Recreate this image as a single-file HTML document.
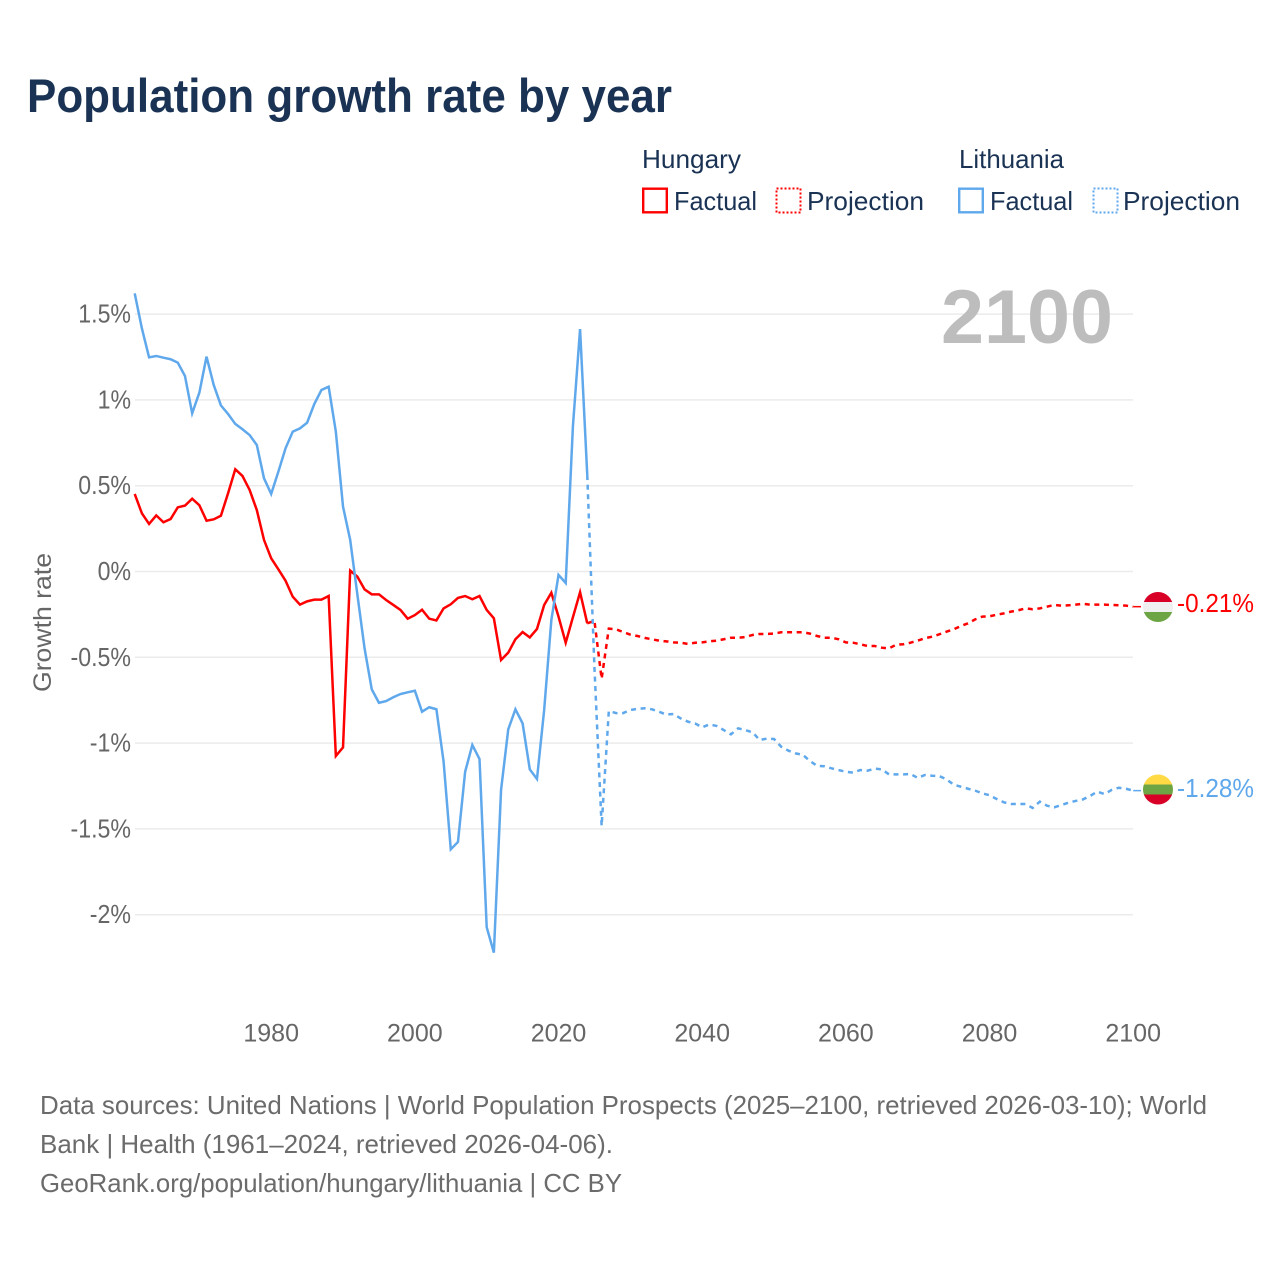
<!DOCTYPE html>
<html lang="en">
<head>
<meta charset="utf-8">
<title>Population growth rate by year</title>
<style>
html,body{margin:0;padding:0;background:#fff;}
svg{display:block;}
text{font-family:"Liberation Sans",sans-serif;}
</style>
</head>
<body>
<svg id="chart" xmlns="http://www.w3.org/2000/svg" width="1280" height="1280" viewBox="0 0 1280 1280">
  <rect x="0" y="0" width="1280" height="1280" fill="#ffffff"/>
  <text x="27" y="112" font-size="47" font-weight="700" fill="#1a3354" textLength="645" lengthAdjust="spacingAndGlyphs">Population growth rate by year</text>

  <g font-size="26" fill="#1a3354">
    <text x="642" y="168" textLength="99" lengthAdjust="spacingAndGlyphs">Hungary</text>
    <text x="959" y="168" textLength="105" lengthAdjust="spacingAndGlyphs">Lithuania</text>
    <rect x="643.2" y="188.7" width="23.6" height="23.6" fill="none" stroke="#ff0000" stroke-width="2.4"/>
    <text x="674" y="210" textLength="83" lengthAdjust="spacingAndGlyphs">Factual</text>
    <rect x="776.5" y="188.5" width="24" height="24" fill="none" stroke="#ff0000" stroke-width="2" stroke-dasharray="2 2"/>
    <text x="807" y="210" textLength="117" lengthAdjust="spacingAndGlyphs">Projection</text>
    <rect x="959.2" y="188.7" width="23.6" height="23.6" fill="none" stroke="#5fa8ec" stroke-width="2.4"/>
    <text x="990" y="210" textLength="83" lengthAdjust="spacingAndGlyphs">Factual</text>
    <rect x="1093.5" y="188.5" width="24" height="24" fill="none" stroke="#5fa8ec" stroke-width="2" stroke-dasharray="2 2"/>
    <text x="1123" y="210" textLength="117" lengthAdjust="spacingAndGlyphs">Projection</text>
  </g>

  <g id="grid"></g>
  <g id="yLabels"></g>
  <g id="xLabels"></g>

  <text transform="translate(51,622.5) rotate(-90)" text-anchor="middle" font-size="25" fill="#666666" textLength="139" lengthAdjust="spacingAndGlyphs">Growth rate</text>
  <text x="941" y="343" font-size="76" font-weight="700" fill="#bdbdbd" textLength="172" lengthAdjust="spacingAndGlyphs">2100</text>

  <g id="series"></g>

  <defs>
    <clipPath id="flagClipHu"><circle cx="1158" cy="607" r="15"/></clipPath>
    <clipPath id="flagClipLt"><circle cx="1158" cy="789.5" r="15"/></clipPath>
  </defs>
  <g clip-path="url(#flagClipHu)">
    <rect x="1143" y="592" width="30" height="10" fill="#d80027"/>
    <rect x="1143" y="602" width="30" height="10" fill="#f0f0f0"/>
    <rect x="1143" y="612" width="30" height="10" fill="#6da544"/>
  </g>
  <g clip-path="url(#flagClipLt)">
    <rect x="1143" y="774.5" width="30" height="10" fill="#ffda44"/>
    <rect x="1143" y="784.5" width="30" height="10" fill="#6da544"/>
    <rect x="1143" y="794.5" width="30" height="10" fill="#d80027"/>
  </g>
  <text x="1177" y="612" font-size="26" fill="#ff0000" textLength="77" lengthAdjust="spacingAndGlyphs">-0.21%</text>
  <text x="1177" y="797" font-size="26" fill="#5fa8ec" textLength="77" lengthAdjust="spacingAndGlyphs">-1.28%</text>

  <g font-size="26" fill="#6b6b6b">
    <text x="40" y="1114" textLength="1167" lengthAdjust="spacingAndGlyphs">Data sources: United Nations | World Population Prospects (2025–2100, retrieved 2026-03-10); World</text>
    <text x="40" y="1153" textLength="573" lengthAdjust="spacingAndGlyphs">Bank | Health (1961–2024, retrieved 2026-04-06).</text>
    <text x="40" y="1192" textLength="582" lengthAdjust="spacingAndGlyphs">GeoRank.org/population/hungary/lithuania | CC BY</text>
  </g>
</svg>
<script>
const yTickValues = [1.5, 1, 0.5, 0, -0.5, -1, -1.5, -2];
const yTickLabels = ["1.5%", "1%", "0.5%", "0%", "-0.5%", "-1%", "-1.5%", "-2%"];
const xTickYears = [1980, 2000, 2020, 2040, 2060, 2080, 2100];
const factualStartYear = 1961;
const projectionStartYear = 2024;

const hungaryFactual = [0.452,0.339,0.277,0.327,0.287,0.306,0.374,0.384,0.424,0.386,0.296,0.304,0.325,0.456,0.596,0.557,0.475,0.358,0.184,0.077,0.013,-0.054,-0.147,-0.193,-0.174,-0.164,-0.164,-0.143,-1.075,-1.025,0.005,-0.03,-0.104,-0.133,-0.133,-0.166,-0.195,-0.224,-0.275,-0.254,-0.223,-0.275,-0.285,-0.215,-0.191,-0.154,-0.143,-0.162,-0.143,-0.224,-0.273,-0.516,-0.473,-0.395,-0.353,-0.384,-0.335,-0.195,-0.124,-0.263,-0.415,-0.267,-0.121,-0.302];
const hungaryProjection = [-0.302,-0.288,-0.625,-0.333,-0.337,-0.353,-0.368,-0.376,-0.387,-0.395,-0.403,-0.407,-0.413,-0.415,-0.422,-0.415,-0.413,-0.407,-0.403,-0.395,-0.386,-0.386,-0.382,-0.37,-0.364,-0.364,-0.362,-0.354,-0.354,-0.354,-0.354,-0.362,-0.376,-0.386,-0.386,-0.395,-0.413,-0.415,-0.424,-0.434,-0.434,-0.444,-0.448,-0.427,-0.424,-0.415,-0.403,-0.389,-0.38,-0.366,-0.351,-0.337,-0.318,-0.302,-0.279,-0.263,-0.261,-0.252,-0.244,-0.234,-0.226,-0.215,-0.22,-0.215,-0.205,-0.195,-0.199,-0.197,-0.193,-0.188,-0.193,-0.193,-0.193,-0.195,-0.197,-0.199,-0.205];
const lithuaniaFactual = [1.621,1.417,1.248,1.256,1.246,1.237,1.217,1.139,0.922,1.042,1.252,1.087,0.968,0.918,0.86,0.829,0.795,0.737,0.543,0.452,0.582,0.718,0.815,0.834,0.867,0.976,1.058,1.077,0.815,0.378,0.184,-0.135,-0.448,-0.687,-0.765,-0.755,-0.733,-0.714,-0.704,-0.695,-0.817,-0.791,-0.803,-1.108,-1.619,-1.576,-1.167,-1.011,-1.093,-2.073,-2.221,-1.273,-0.92,-0.803,-0.885,-1.153,-1.209,-0.807,-0.283,-0.02,-0.067,0.844,1.413,0.562];
const lithuaniaProjection = [0.562,-0.56,-1.483,-0.813,-0.825,-0.825,-0.807,-0.801,-0.797,-0.803,-0.817,-0.834,-0.83,-0.856,-0.875,-0.885,-0.908,-0.891,-0.9,-0.924,-0.949,-0.914,-0.924,-0.937,-0.982,-0.974,-0.976,-1.021,-1.044,-1.06,-1.068,-1.104,-1.133,-1.135,-1.147,-1.157,-1.167,-1.172,-1.157,-1.161,-1.149,-1.153,-1.182,-1.182,-1.182,-1.18,-1.203,-1.186,-1.19,-1.192,-1.211,-1.242,-1.254,-1.266,-1.277,-1.293,-1.304,-1.326,-1.345,-1.355,-1.355,-1.355,-1.378,-1.341,-1.365,-1.374,-1.361,-1.347,-1.337,-1.328,-1.308,-1.283,-1.297,-1.273,-1.26,-1.266,-1.277];

const SVG_NS = "http://www.w3.org/2000/svg";
const xScale = function (year) { return 134.7 + (year - 1961) * (1133.2 - 134.7) / (2100 - 1961); };
const yScale = function (value) { return 571.5 - value * 171.6; };

const gridGroup = document.getElementById("grid");
const yLabelGroup = document.getElementById("yLabels");
const xLabelGroup = document.getElementById("xLabels");
const seriesGroup = document.getElementById("series");

yTickValues.forEach(function (value, i) {
  const line = document.createElementNS(SVG_NS, "line");
  
  
  line.setAttribute("x1", 135);
  line.setAttribute("x2", 1133);
  line.setAttribute("y1", yScale(value));
  line.setAttribute("y2", yScale(value));
  line.setAttribute("stroke", "#ebebeb");
  line.setAttribute("stroke-width", "1.5");
  gridGroup.appendChild(line);

  const label = document.createElementNS(SVG_NS, "text");
  
  
  label.setAttribute("x", 131);
  label.setAttribute("y", yScale(value) + 8.5);
  label.setAttribute("text-anchor", "end");
  label.setAttribute("font-size", "26");
  label.setAttribute("fill", "#666666");
  label.textContent = yTickLabels[i];
  yLabelGroup.appendChild(label);
  label.setAttribute("textLength", (label.getComputedTextLength() * 0.89).toFixed(1));
  label.setAttribute("lengthAdjust", "spacingAndGlyphs");
});

xTickYears.forEach(function (year) {
  const label = document.createElementNS(SVG_NS, "text");
  
  
  label.setAttribute("x", xScale(year));
  label.setAttribute("y", 1041.5);
  label.setAttribute("text-anchor", "middle");
  label.setAttribute("font-size", "25");
  label.setAttribute("fill", "#666666");
  label.textContent = String(year);
  xLabelGroup.appendChild(label);
});

function pathFor(values, startYear) {
  return values.map(function (value, i) {
    return (i === 0 ? "M" : "L") + xScale(startYear + i).toFixed(2) + " " + yScale(value).toFixed(2);
  }).join(" ");
}

function addLine(name, values, startYear, color, dashed) {
  const path = document.createElementNS(SVG_NS, "path");
  
  
  path.setAttribute("d", pathFor(values, startYear));
  path.setAttribute("fill", "none");
  path.setAttribute("stroke", color);
  path.setAttribute("stroke-width", "2.5");
  path.setAttribute("stroke-linejoin", "miter");
  if (dashed) {
    path.setAttribute("stroke-dasharray", "5 4.6");
  }
  seriesGroup.appendChild(path);
}

function addConnector(name, values, color) {
  const last = values[values.length - 1];
  const connector = document.createElementNS(SVG_NS, "line");
  
  
  connector.setAttribute("x1", xScale(2100));
  connector.setAttribute("x2", 1141);
  connector.setAttribute("y1", yScale(last));
  connector.setAttribute("y2", yScale(last));
  connector.setAttribute("stroke", color);
  connector.setAttribute("stroke-width", "1.5");
  seriesGroup.appendChild(connector);
}

addLine("hungary-factual-line", hungaryFactual, factualStartYear, "#ff0000", false);
addLine("hungary-projection-line", hungaryProjection, projectionStartYear, "#ff0000", true);
addLine("lithuania-factual-line", lithuaniaFactual, factualStartYear, "#5fa8ec", false);
addLine("lithuania-projection-line", lithuaniaProjection, projectionStartYear, "#5fa8ec", true);
addConnector("hungary-end-connector", hungaryProjection, "#ff0000");
addConnector("lithuania-end-connector", lithuaniaProjection, "#5fa8ec");
</script>
</body>
</html>
